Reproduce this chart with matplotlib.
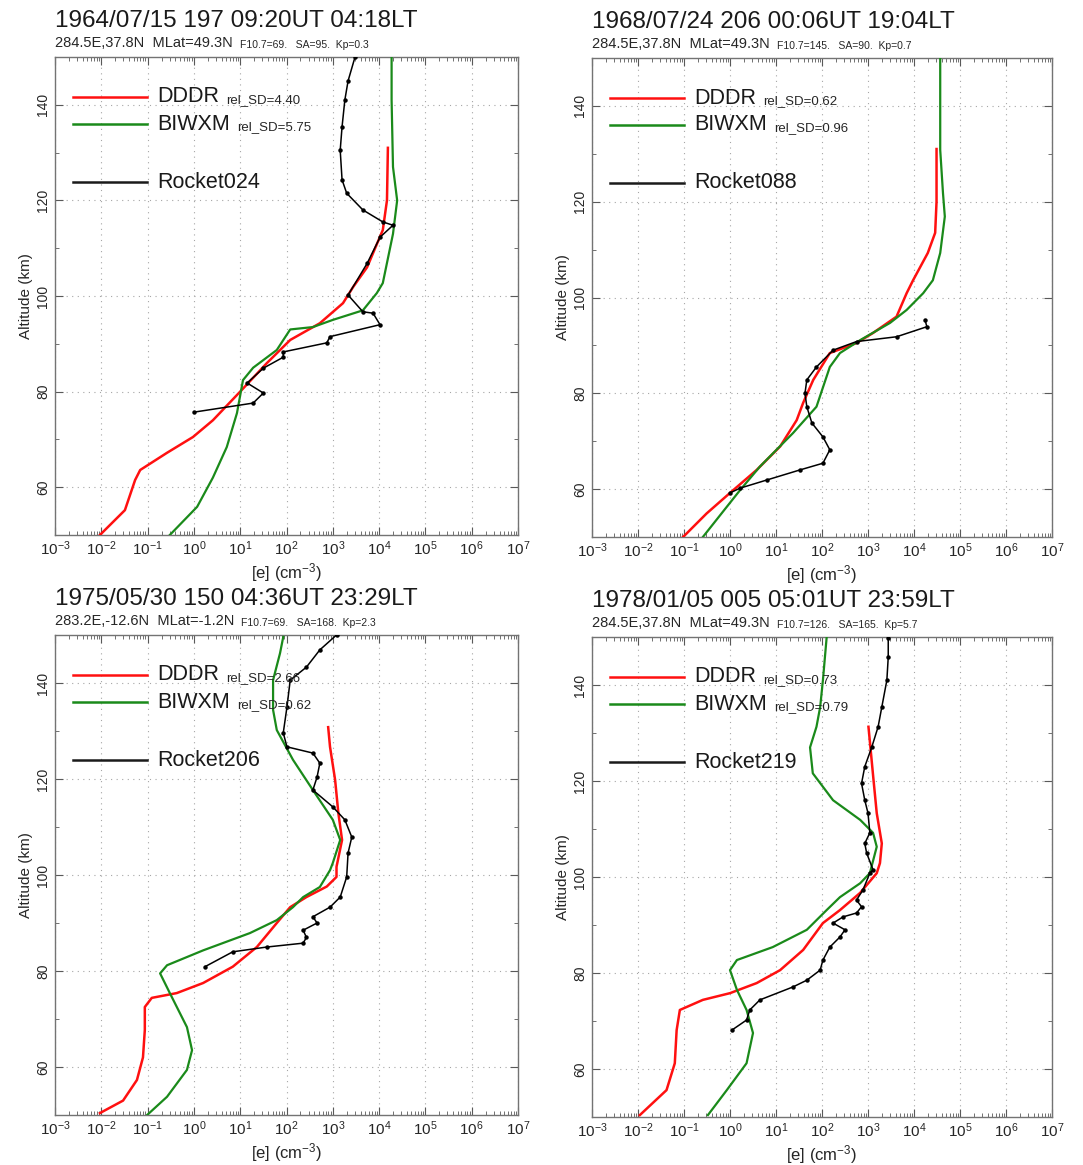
import numpy as np
import matplotlib
matplotlib.use("Agg")
import matplotlib.pyplot as plt
from matplotlib.ticker import FixedLocator, MultipleLocator, NullFormatter

plt.rcParams['font.family'] = ['Liberation Sans', 'DejaVu Sans']
plt.rcParams['mathtext.fontset'] = 'custom'
plt.rcParams['mathtext.rm'] = 'Liberation Sans'
plt.rcParams['mathtext.it'] = 'Liberation Sans'

# ---- data (altitude km, log10 of [e] in cm^-3) ----
# panel 1 : 1964/07/15
dddr_alt_1 = [50, 55.2, 61.5, 63.6, 67.2, 70.5, 74, 80, 86, 90.8, 94.3, 98.5, 101.9, 106, 113.8, 120, 131]
dddr_lg_1 = [-2.03, -1.49, -1.27, -1.16, -0.58, -0.02, 0.41, 1.0, 1.58, 2.08, 2.72, 3.22, 3.44, 3.74, 4.08, 4.17, 4.19]
biwxm_alt_1 = [50, 55.9, 62, 68.4, 75.5, 82.4, 85, 88.7, 93, 93.5, 95, 97, 100.6, 102.7, 113, 120, 127, 141, 150]
biwxm_lg_1 = [-0.52, 0.07, 0.41, 0.71, 0.93, 1.06, 1.28, 1.79, 2.08, 2.57, 3.0, 3.65, 3.95, 4.08, 4.30, 4.39, 4.30, 4.27, 4.27]
rock_alt_1 = [75.7, 77.6, 79.7, 81.8, 84.9, 87.2, 88.3, 90.2, 91.5, 94, 96.4, 96.7, 100.2, 106.8, 112.3,
              114.8, 115.5, 118, 121.5, 124.3, 130.5, 135.4, 141, 145, 150]
rock_lg_1 = [0.0, 1.28, 1.50, 1.15, 1.50, 1.93, 1.93, 2.87, 2.94, 4.02, 3.87, 3.65, 3.33, 3.74, 4.02,
             4.30, 4.08, 3.65, 3.30, 3.20, 3.16, 3.20, 3.26, 3.33, 3.48]

# panel 2 : 1968/07/24
dddr_alt_2 = [50, 54.9, 59.2, 64, 68.9, 74.4, 78, 82.8, 88.4, 90.5, 92.6, 96, 100.9, 103.6, 109.3, 113.5, 120, 131]
dddr_lg_2 = [-1.02, -0.51, 0.0, 0.58, 1.09, 1.45, 1.59, 1.81, 2.17, 2.75, 3.11, 3.62, 3.84, 3.98, 4.30, 4.46, 4.49, 4.49]
biwxm_alt_2 = [50, 56.3, 59.8, 64.7, 71.7, 77.2, 85.5, 88.4, 91.1, 94.7, 97.4, 100.9, 103.6, 109.3, 116.9, 121.8, 130.8, 141, 150]
biwxm_lg_2 = [-0.59, -0.07, 0.22, 0.65, 1.37, 1.88, 2.17, 2.39, 2.83, 3.48, 3.84, 4.2, 4.41, 4.57, 4.67, 4.63, 4.57, 4.57, 4.57]
rock_alt_2 = [59.2, 60.2, 61.9, 64, 65.4, 68.2, 70.9, 73.8, 77.2, 80, 82.8, 85.5, 89, 90.8, 91.8, 93.9, 95.3]
rock_lg_2 = [0.0, 0.22, 0.80, 1.52, 2.02, 2.17, 2.02, 1.78, 1.67, 1.63, 1.67, 1.88, 2.24, 2.75, 3.62, 4.28, 4.24]

# panel 3 : 1975/05/30
dddr_alt_3 = [50.4, 53, 57.3, 62, 67.7, 72.5, 74.4, 75.4, 77.5, 80.9, 85, 90, 93.3, 95.4, 97.6, 99.6,
              101.7, 107.3, 112.9, 119.8, 126.7, 130.8]
dddr_lg_3 = [-2.03, -1.53, -1.23, -1.10, -1.06, -1.06, -0.91, -0.37, 0.20, 0.84, 1.36, 1.79, 2.08, 2.43, 2.87, 3.08,
             3.08, 3.20, 3.12, 3.05, 2.94, 2.90]
biwxm_alt_3 = [50, 53.8, 59.4, 63.5, 68.3, 75.4, 79.5, 81.2, 84.3, 87.9, 90.6, 93.3, 95.4, 97.5, 101, 102.5,
               107.3, 111.5, 117.7, 124, 130.2, 134.4, 140.6, 146.2, 149.6]
biwxm_lg_3 = [-1.01, -0.58, -0.15, -0.04, -0.15, -0.52, -0.73, -0.58, 0.20, 1.21, 1.79, 2.14, 2.36, 2.72, 2.94, 3.0,
              3.16, 3.0, 2.57, 2.14, 1.79, 1.71, 1.71, 1.86, 1.93]
rock_alt_3 = [80.9, 84, 85, 85.8, 87, 88.5, 90, 91.3, 93.3, 95.4, 99.6, 104.6, 107.9, 111.5, 114.2, 117.7,
              120.4, 123.3, 125.4, 126.7, 129.6, 135, 140.6, 143.3, 146.9, 150]
rock_lg_3 = [0.24, 0.84, 1.58, 2.36, 2.43, 2.36, 2.66, 2.57, 2.94, 3.16, 3.30, 3.33, 3.41, 3.26, 3.0, 2.57,
             2.66, 2.72, 2.57, 2.01, 1.93, 2.01, 2.08, 2.43, 2.72, 3.08]

# panel 4 : 1978/01/05
dddr_alt_4 = [50.4, 55.6, 61.2, 68.1, 72.3, 74.4, 75.8, 77.9, 80.6, 84.8, 90.4, 93.1, 96.7, 100.8, 102.9,
              107, 113.3, 120.2, 131.3]
dddr_lg_4 = [-1.96, -1.38, -1.20, -1.16, -1.09, -0.59, 0.0, 0.58, 1.09, 1.59, 2.02, 2.39, 2.83, 3.19, 3.26,
             3.30, 3.19, 3.12, 3.01]
biwxm_alt_4 = [50.4, 55.6, 61.2, 67.5, 72.3, 76.5, 80.6, 82.7, 85.4, 89, 93.1, 95.8, 98.7, 100.8, 106.3,
               109.2, 111.9, 116, 121.6, 127, 131.3, 135.4, 141, 149.8]
biwxm_lg_4 = [-0.48, -0.07, 0.36, 0.50, 0.36, 0.15, 0.0, 0.15, 0.93, 1.67, 2.10, 2.39, 2.83, 3.04, 3.19,
              3.11, 2.83, 2.24, 1.80, 1.74, 1.88, 1.96, 2.02, 2.10]
rock_alt_4 = [68.1, 70.2, 72.3, 74.4, 77.1, 78.5, 80.6, 82.7, 85.4, 87.5, 89, 90.4, 91.7, 92.5, 93.8, 95.2,
              97.3, 100.8, 101.5, 105, 107, 109.2, 113.3, 116, 119.5, 123, 127, 131.3, 135.4, 141, 145.8, 149.8]
rock_lg_4 = [0.04, 0.36, 0.43, 0.65, 1.37, 1.67, 1.96, 2.02, 2.17, 2.39, 2.50, 2.24, 2.46, 2.75, 2.86, 2.75,
             2.89, 3.04, 3.11, 2.97, 2.93, 3.04, 3.0, 2.93, 2.86, 2.93, 3.08, 3.22, 3.30, 3.41, 3.44, 3.44]

titles = ["1964/07/15 197 09:20UT 04:18LT", "1968/07/24 206 00:06UT 19:04LT",
          "1975/05/30 150 04:36UT 23:29LT", "1978/01/05 005 05:01UT 23:59LT"]
locs = ["284.5E,37.8N  MLat=49.3N", "284.5E,37.8N  MLat=49.3N",
        "283.2E,-12.6N  MLat=-1.2N", "284.5E,37.8N  MLat=49.3N"]
indices = ["F10.7=69.   SA=95.  Kp=0.3", "F10.7=145.   SA=90.  Kp=0.7",
           "F10.7=69.   SA=168.  Kp=2.3", "F10.7=126.   SA=165.  Kp=5.7"]
dddr_sd = ["4.40", "0.62", "2.66", "0.73"]
biwxm_sd = ["5.75", "0.96", "0.62", "0.79"]
rockets = ["Rocket024", "Rocket088", "Rocket206", "Rocket219"]

panels = [
    (dddr_alt_1, dddr_lg_1, biwxm_alt_1, biwxm_lg_1, rock_alt_1, rock_lg_1),
    (dddr_alt_2, dddr_lg_2, biwxm_alt_2, biwxm_lg_2, rock_alt_2, rock_lg_2),
    (dddr_alt_3, dddr_lg_3, biwxm_alt_3, biwxm_lg_3, rock_alt_3, rock_lg_3),
    (dddr_alt_4, dddr_lg_4, biwxm_alt_4, biwxm_lg_4, rock_alt_4, rock_lg_4),
]

# axes boxes in figure fraction (pixel measured on 1083x1165)
W, H = 1083., 1165.
boxes = [(55, 57, 518, 535), (592, 58, 1052, 537), (55, 635, 518, 1115), (592, 637, 1052, 1117)]

RED = '#ff1010'
GREEN = '#1a8a1a'

decades = 10.0 ** np.arange(-3, 8)
minors = np.array([m * d for d in decades[:-1] for m in range(2, 10)])

fig = plt.figure(figsize=(10.83, 11.65), dpi=100)

for i in range(4):
    x0, y0, x1, y1 = boxes[i]
    ax = fig.add_axes([x0 / W, 1 - y1 / H, (x1 - x0) / W, (y1 - y0) / H])
    da, dl, ba, bl, ra, rl = panels[i]

    ax.plot(10 ** np.array(dl), da, color=RED, lw=1.8, zorder=3)
    ax.plot(10 ** np.array(bl), ba, color=GREEN, lw=1.6, zorder=3)
    ax.plot(10 ** np.array(rl), ra, color='black', lw=1.1, marker='o', ms=2.2, zorder=4)

    ax.set_xscale('log')
    ax.set_xlim(1e-3, 1e7)
    ax.set_ylim(50, 150)
    ax.xaxis.set_major_locator(FixedLocator(decades))
    ax.xaxis.set_minor_locator(FixedLocator(minors))
    ax.xaxis.set_minor_formatter(NullFormatter())
    ax.yaxis.set_major_locator(FixedLocator([60, 80, 100, 120, 140]))
    ax.yaxis.set_minor_locator(MultipleLocator(10))
    ax.tick_params(which='both', direction='in', top=True, right=True, colors='0.35',
                   labelcolor='0.15', labelsize=11)
    ax.tick_params(which='major', length=6, width=0.8)
    ax.tick_params(which='minor', length=3, width=0.6)
    ax.tick_params(axis='y', labelrotation=90, labelsize=10)
    for lab in ax.get_yticklabels():
        lab.set_va('center')
    ax.grid(True, which='major', ls=(0, (1, 4)), color='0.65', lw=0.8)
    for s in ax.spines.values():
        s.set_color('0.45')
        s.set_linewidth(1.0)

    ax.set_xlabel("[e] (cm$^{-3}$)", fontsize=12, labelpad=2, color='0.15')
    ax.set_ylabel("Altitude (km)", fontsize=11, labelpad=2, color='0.15')

    # header
    h = (y1 - y0)
    ax.text(0.0, 1 + 30 / h, titles[i], transform=ax.transAxes, fontsize=17.5,
            va='baseline', ha='left', color='0.1')
    t = ax.text(0.0, 1 + 10 / h, locs[i], transform=ax.transAxes, fontsize=10.5,
                va='baseline', ha='left', color='0.15')
    ax.annotate(indices[i], xy=(1, 0), xycoords=t, xytext=(5, 0), textcoords='offset points',
                fontsize=7.5, va='bottom', ha='left', color='0.15')

    # hand drawn legend like the original
    w = (x1 - x0)
    lx0, lx1, tx = 18 / w, 92 / w, 102 / w
    rows = [(RED, "DDDR", "rel_SD=" + dddr_sd[i], 1 - 40 / h),
            (GREEN, "BIWXM", "rel_SD=" + biwxm_sd[i], 1 - 67 / h),
            ('0.1', rockets[i], None, 1 - 125 / h)]
    for col, name, sd, yy in rows:
        ax.plot([lx0, lx1], [yy, yy], color=col, lw=1.8, transform=ax.transAxes, zorder=5)
        tt = ax.text(tx, yy, name, transform=ax.transAxes, fontsize=15.5, va='center',
                     ha='left', color='0.1', zorder=5)
        if sd is not None:
            ax.annotate(sd, xy=(1, 0.05), xycoords=tt, xytext=(5, 0), textcoords='offset points',
                        fontsize=9.5, va='bottom', ha='left', color='0.15', zorder=5)

fig.savefig("out.png", dpi=100)
